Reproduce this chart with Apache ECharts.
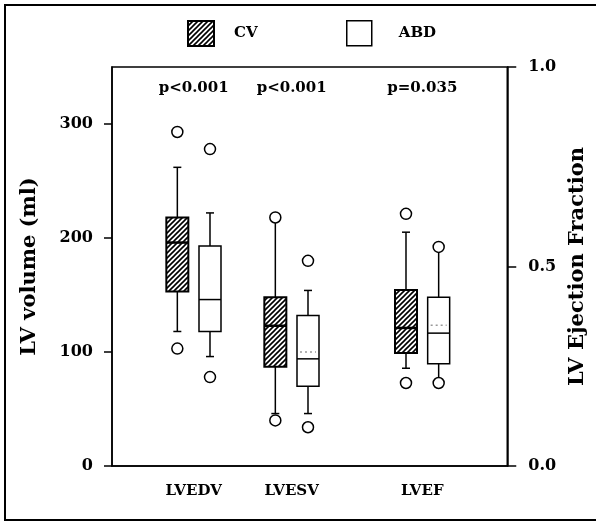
<!DOCTYPE html>
<html><head><meta charset="utf-8">
<script src="https://cdn.jsdelivr.net/npm/echarts@6/dist/echarts.min.js"></script>
<style>html,body{margin:0;padding:0;background:#fff}#c{width:596px;height:522px}</style>
</head><body><div id="c"></div>
<script>
// ---------- data ----------
const categories = ['LVEDV', 'LVESV', 'LVEF'];
const seriesNames = ['CV', 'ABD'];
// [lower whisker, Q1, median, Q3, upper whisker]
const cvBoxes  = [[118, 153, 196, 218, 262], [46, 87, 123, 148, 218], [0.245, 0.283, 0.346, 0.441, 0.586]];
const abdBoxes = [[96, 118, 146, 193, 222], [46, 70, 94, 132, 154], [0.208, 0.256, 0.333, 0.423, 0.549]];
const cvOutliers  = [[103, 293], [40, 218], [0.208, 0.632]];
const abdOutliers = [[78, 278], [34, 180], [0.208, 0.549]];
const abdMeans = [null, 100, 0.353];
const cvMeans = [null, null, null];
const pValues = ['p<0.001', 'p<0.001', 'p=0.035'];
const volumeTicks = [0, 100, 200, 300];
const efTicks = [0, 0.5, 1];

// ---------- layout ----------
const FONT = 'DejaVu Serif';
const axisOfCategory = [0, 0, 1];      // 0 = volume axis, 1 = ejection fraction axis
const groupCenter = [2.5, 5.5, 9.5];   // hidden x scale positions
const boxShift = 0.5;
const VOL_MAX = 350;
const BOX_HALF = 11;
const CAP_HALF = 4;

function hatch() {
  const s = 5;
  const c = document.createElement('canvas');
  c.width = s; c.height = s;
  const g = c.getContext('2d');
  g.fillStyle = '#fff'; g.fillRect(0, 0, s, s);
  g.strokeStyle = '#000'; g.lineWidth = 1.6;
  g.beginPath();
  g.moveTo(-1, s + 1); g.lineTo(s + 1, -1);
  g.moveTo(-1, 1); g.lineTo(1, -1);
  g.moveTo(s - 1, s + 1); g.lineTo(s + 1, s - 1);
  g.stroke();
  return c;
}
const hatchPattern = { image: hatch(), repeat: 'repeat' };

function boxRender(filled) {
  return function (params, api) {
    const x = api.value(0);
    const p = [1, 2, 3, 4, 5].map(i => api.coord([x, api.value(i)]));
    const cx = p[0][0];
    const lw = filled ? 2 : 1.5;
    const ls = { stroke: '#000', lineWidth: 1.5 };
    const ch = [];
    ch.push({ type: 'line', shape: { x1: cx, y1: p[3][1], x2: cx, y2: p[4][1] }, style: ls });
    ch.push({ type: 'line', shape: { x1: cx, y1: p[1][1], x2: cx, y2: p[0][1] }, style: ls });
    ch.push({ type: 'line', shape: { x1: cx - CAP_HALF, y1: p[4][1], x2: cx + CAP_HALF, y2: p[4][1] }, style: ls });
    ch.push({ type: 'line', shape: { x1: cx - CAP_HALF, y1: p[0][1], x2: cx + CAP_HALF, y2: p[0][1] }, style: ls });
    ch.push({ type: 'rect', shape: { x: cx - BOX_HALF, y: p[3][1], width: 2 * BOX_HALF, height: p[1][1] - p[3][1] },
      style: { fill: filled ? hatchPattern : '#fff', stroke: '#000', lineWidth: lw } });
    const mean = api.value(6);
    if (mean != null && !isNaN(mean)) {
      const my = api.coord([x, mean])[1];
      ch.push({ type: 'line', shape: { x1: cx - BOX_HALF + 3, y1: my, x2: cx + BOX_HALF - 3, y2: my },
        style: { stroke: '#999', lineWidth: 1.5, lineDash: [2, 3] } });
    }
    ch.push({ type: 'line', shape: { x1: cx - BOX_HALF, y1: p[2][1], x2: cx + BOX_HALF, y2: p[2][1] },
      style: { stroke: '#000', lineWidth: filled ? 2.5 : 1.5 } });
    return { type: 'group', children: ch };
  };
}

function boxData(boxes, means, shift, axis) {
  const out = [];
  categories.forEach((c, i) => {
    if (axisOfCategory[i] === axis) out.push([groupCenter[i] + shift].concat(boxes[i], [means[i]]));
  });
  return out;
}
function outlierData(outs, shift, axis) {
  const out = [];
  categories.forEach((c, i) => {
    if (axisOfCategory[i] === axis) outs[i].forEach(v => out.push([groupCenter[i] + shift, v]));
  });
  return out;
}

const series = [];
[[cvBoxes, cvMeans, cvOutliers, -boxShift, true], [abdBoxes, abdMeans, abdOutliers, boxShift, false]].forEach((s, k) => {
  [0, 1].forEach(axis => {
    series.push({
      type: 'custom', name: seriesNames[k], yAxisIndex: axis, z: 2,
      renderItem: boxRender(s[4]),
      encode: { x: 0, y: [1, 2, 3, 4, 5] },
      data: boxData(s[0], s[1], s[3], axis)
    });
    series.push({
      type: 'scatter', name: seriesNames[k], yAxisIndex: axis, z: 5,
      symbol: 'circle', symbolSize: 11,
      itemStyle: { color: '#fff', borderColor: '#000', borderWidth: 1.5, opacity: 1 },
      data: outlierData(s[2], s[3], axis)
    });
  });
});
series.push({
  type: 'custom', yAxisIndex: 0, z: 6, silent: true,
  renderItem: function (params, api) {
    const i = params.dataIndex;
    const pt = api.coord([api.value(0), VOL_MAX]);
    return { type: 'text', x: pt[0], y: pt[1] + 21,
      style: { text: pValues[i], font: 'bold 15px "' + FONT + '"', fill: '#000', align: 'center', verticalAlign: 'middle' } };
  },
  data: groupCenter.map(g => [g, VOL_MAX])
});

const labelStyle = { color: '#000', fontFamily: FONT, fontWeight: 'bold', fontSize: 16 };
const chart = echarts.init(document.getElementById('c'), null, { renderer: 'canvas' });
chart.setOption({
  animation: false,
  backgroundColor: '#fff',
  grid: { left: 112, right: 88, top: 67, bottom: 56, show: true, borderColor: '#000', borderWidth: 1.5, backgroundColor: 'transparent' },
  legend: [
    { data: [{ name: 'CV', icon: 'rect', itemStyle: { color: hatchPattern, borderColor: '#000', borderWidth: 2 } }],
      left: 182, top: 15, itemWidth: 26, itemHeight: 25, selectedMode: false,
      textStyle: { color: '#000', fontFamily: FONT, fontWeight: 'bold', fontSize: 15, padding: [0, 0, 0, 15] } },
    { data: [{ name: 'ABD', icon: 'rect', itemStyle: { color: '#fff', borderColor: '#000', borderWidth: 1.5 } }],
      left: 341, top: 15, itemWidth: 25, itemHeight: 25, selectedMode: false,
      textStyle: { color: '#000', fontFamily: FONT, fontWeight: 'bold', fontSize: 15, padding: [0, 0, 0, 22] } }
  ],
  xAxis: {
    type: 'value', min: 0, max: 12.1, interval: 0.5,
    axisLine: { show: true, lineStyle: { color: '#000', width: 1.5 } },
    axisTick: { show: false }, splitLine: { show: false },
    axisLabel: { ...labelStyle, fontSize: 15, margin: 18, showMinLabel: false, showMaxLabel: false,
      formatter: v => { const i = groupCenter.indexOf(v); return i >= 0 ? categories[i] : ''; } }
  },
  yAxis: [
    { type: 'value', min: 0, max: VOL_MAX, interval: 100, position: 'left',
      name: 'LV volume (ml)', nameLocation: 'middle', nameGap: 72,
      nameTextStyle: { color: '#000', fontFamily: FONT, fontWeight: 'bold', fontSize: 21 },
      axisLine: { show: true, lineStyle: { color: '#000', width: 1.5 } },
      axisTick: { show: true, length: 8, customValues: volumeTicks, lineStyle: { color: '#000', width: 1.5 } },
      axisLabel: { ...labelStyle, margin: 19, customValues: volumeTicks },
      splitLine: { show: false } },
    { type: 'value', min: 0, max: 1, interval: 0.5, position: 'right',
      name: 'LV Ejection Fraction', nameLocation: 'middle', nameGap: 56,
      nameTextStyle: { color: '#000', fontFamily: FONT, fontWeight: 'bold', fontSize: 21 },
      axisLine: { show: true, lineStyle: { color: '#000', width: 1.5 } },
      axisTick: { show: true, length: 9, customValues: efTicks, lineStyle: { color: '#000', width: 1.5 } },
      axisLabel: { ...labelStyle, margin: 21, customValues: efTicks, formatter: v => v.toFixed(1) },
      splitLine: { show: false } }
  ],
  graphic: [{ type: 'rect', shape: { x: 5, y: 5, width: 600, height: 515 }, style: { fill: 'none', stroke: '#000', lineWidth: 2 }, z: -1 }],
  series: series
});
</script></body></html>
